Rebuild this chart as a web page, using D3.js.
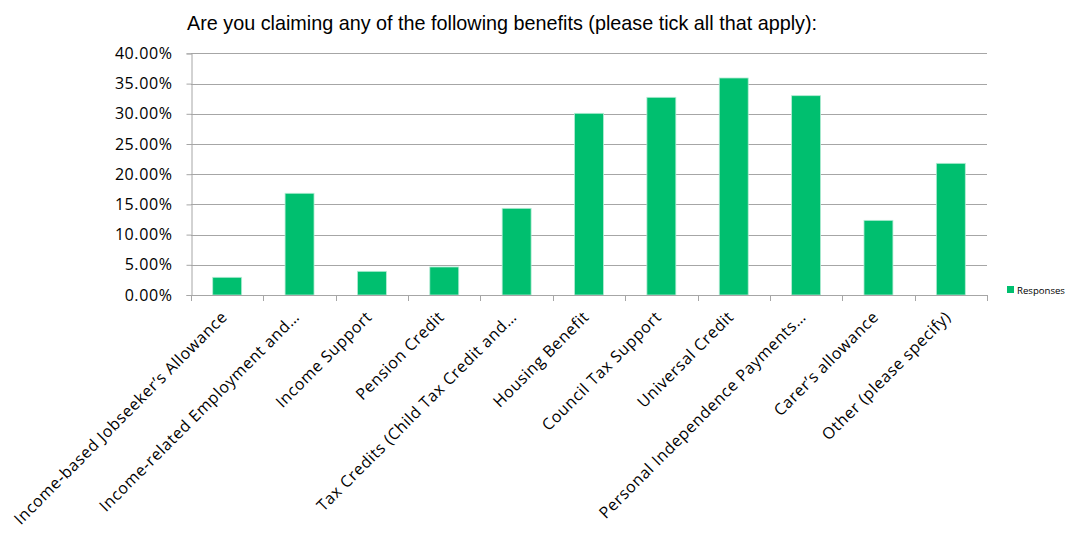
<!DOCTYPE html>
<html>
<head>
<meta charset="utf-8">
<script src="https://cdn.jsdelivr.net/npm/d3@7"></script>
<style>
  html, body { margin: 0; padding: 0; background: #fff; }
  svg { display: block; }
</style>
</head>
<body>
<svg id="chart" width="1072" height="538"></svg>
<script>
const categories = [
  "Income-based Jobseeker\u2019s Allowance",
  "Income-related Employment and\u2026",
  "Income Support",
  "Pension Credit",
  "Tax Credits (Child Tax Credit and\u2026",
  "Housing Benefit",
  "Council Tax Support",
  "Universal Credit",
  "Personal Independence Payments\u2026",
  "Carer\u2019s allowance",
  "Other (please specify)"
];
const responses = [2.93, 16.84, 3.92, 4.64, 14.35, 30.08, 32.73, 35.93, 33.0, 12.36, 21.8];
const yTicks = [0, 5, 10, 15, 20, 25, 30, 35, 40];
const seriesName = "Responses";
const title = "Are you claiming any of the following benefits (please tick all that apply):";

const svg = d3.select("#chart");
const plot = { left: 191, right: 987, top: 53.4, bottom: 295 };
const green = "#00BF6F";
const gridColor = "#a6a6a6";
const labelFont = "'Open Sans', Lato, sans-serif";

const x = d3.scaleBand().domain(categories).range([plot.left, plot.right]).paddingInner(0.6).paddingOuter(0.3);
const y = d3.scaleLinear().domain([0, 40]).range([plot.bottom, plot.top]);

// title
svg.append("text")
  .attr("x", 502).attr("y", 30)
  .attr("text-anchor", "middle")
  .attr("font-family", "Liberation Sans, Arial, sans-serif")
  .attr("font-size", 19.8)
  .attr("fill", "#000")
  .text(title);

// horizontal gridlines
svg.append("g").selectAll("line").data(yTicks.filter(d => d > 0)).join("line")
  .attr("x1", plot.left).attr("x2", plot.right)
  .attr("y1", d => Math.round(y(d)) + 0.5).attr("y2", d => Math.round(y(d)) + 0.5)
  .attr("stroke", gridColor).attr("stroke-width", 1);

// y axis
const yAxis = d3.axisLeft(y).tickValues(yTicks).tickFormat(d => d.toFixed(2) + "%").tickSize(5).tickPadding(14);
const gy = svg.append("g").attr("transform", `translate(${plot.left + 0.5},0)`).call(yAxis);
gy.select(".domain").attr("stroke", gridColor);
gy.selectAll(".tick line").attr("stroke", gridColor);
gy.selectAll(".tick text")
  .attr("font-family", labelFont)
  .attr("font-size", 16).attr("letter-spacing", 0.6).attr("fill", "#000");

// bars
svg.append("g").selectAll("rect").data(categories).join("rect")
  .attr("x", d => x(d))
  .attr("width", x.bandwidth())
  .attr("y", (d, i) => y(responses[i]))
  .attr("height", (d, i) => y(0) - y(responses[i]))
  .attr("fill", green)
  .attr("stroke", "#b4ecd4").attr("stroke-width", 0.8);

// x axis with boundary ticks
const boundaries = d3.range(categories.length + 1).map(i => plot.left + i * (plot.right - plot.left) / categories.length);
const gx = svg.append("g");
gx.append("line")
  .attr("x1", plot.left).attr("x2", plot.right)
  .attr("y1", Math.round(y(0)) + 0.5).attr("y2", Math.round(y(0)) + 0.5)
  .attr("stroke", gridColor);
gx.selectAll("line.tick").data(boundaries).join("line").attr("class", "tick")
  .attr("x1", d => Math.round(d) + 0.5).attr("x2", d => Math.round(d) + 0.5)
  .attr("y1", Math.round(y(0))).attr("y2", Math.round(y(0)) + 6)
  .attr("stroke", gridColor);

// rotated category labels
gx.selectAll("text").data(categories).join("text")
  .attr("transform", d => `translate(${x(d) + x.bandwidth() / 2 + 1},${plot.bottom + 23}) rotate(-45)`)
  .attr("text-anchor", "end")
  .attr("font-family", labelFont)
  .attr("font-size", 16)
  .attr("letter-spacing", 0.6)
  .attr("fill", "#000")
  .text(d => d);

// legend
const lg = svg.append("g").attr("transform", "translate(1007,286)");
lg.append("rect").attr("width", 7).attr("height", 7).attr("fill", green);
lg.append("text").attr("x", 10).attr("y", 7.5)
  .attr("font-family", labelFont)
  .attr("font-size", 9.6).attr("fill", "#000")
  .text(seriesName);
</script>
</body>
</html>
